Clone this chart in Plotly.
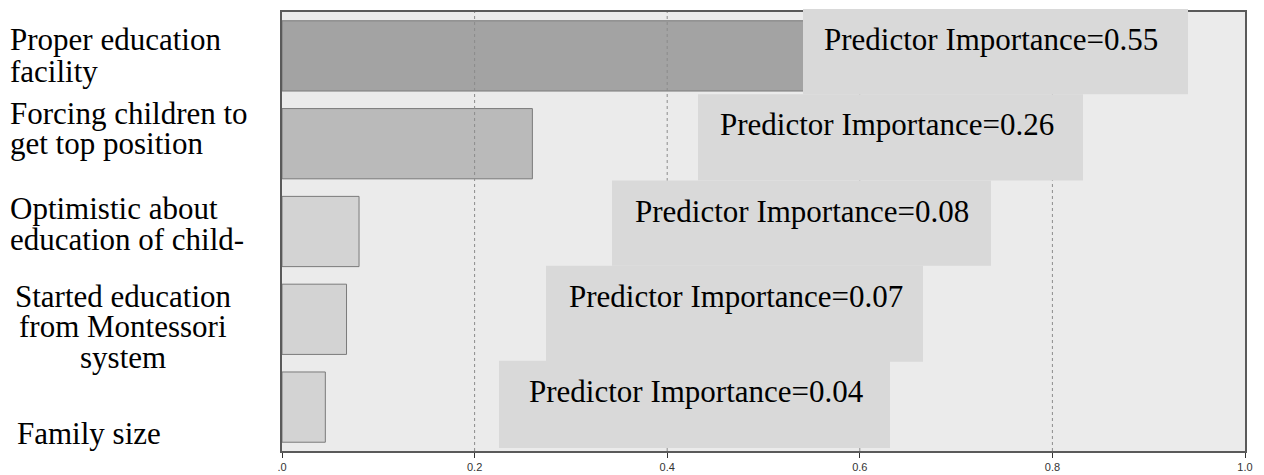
import plotly.graph_objects as go

# ---- data ----
categories = [
    "Proper education facility",
    "Forcing children to get top position",
    "Optimistic about education of child-",
    "Started education from Montessori system",
    "Family size",
]
importance = [0.55, 0.26, 0.08, 0.067, 0.045]
importance_labels = ["0.55", "0.26", "0.08", "0.07", "0.04"]
bar_colors = ["#a3a3a3", "#bababa", "#d3d3d3", "#d3d3d3", "#d3d3d3"]
x_tickvals = [0, 0.2, 0.4, 0.6, 0.8, 1.0]
x_ticktext = [".0", "0.2", "0.4", "0.6", "0.8", "1.0"]
grid_vals = [0.2, 0.4, 0.6, 0.8]

# category label lines (as printed on the left)
label_lines = [
    ["Proper education", "facility"],
    ["Forcing children to", "get top position"],
    ["Optimistic about", "education of child-"],
    ["Started education", "from Montessori", "system"],
    ["Family size"],
]

# ---- layout geometry (page pixels) ----
PAGE_W, PAGE_H = 1264, 475
OFF = 8  # default body margin of the html page
L, R, T, B = 282, 1245, 10, 453
FIG_W, FIG_H = PAGE_W - OFF, PAGE_H - OFF


def px(xp):
    return (xp - L) / (R - L)


def py(yp):
    return (B - yp) / (B - T)


serif = "Liberation Serif, Times New Roman, serif"

fig = go.Figure()
fig.add_trace(go.Bar(
    y=categories,
    x=importance,
    orientation="h",
    marker=dict(color=bar_colors, line=dict(color="#7a7a7a", width=1)),
    hoverinfo="skip",
))

shapes = []
# dashed gridlines drawn above bars
for g in grid_vals:
    shapes.append(dict(type="line", xref="x", yref="paper", x0=g, x1=g, y0=0, y1=1,
                       line=dict(color="#8c8c8c", width=1, dash="3px,3px"), layer="above"))

# tooltip-like boxes: (left, top, right, bottom, text-left) in page pixels
boxes = [
    (803, 7, 1188, 93, 822),
    (698, 93, 1083, 180, 718),
    (612, 180, 991, 266, 633),
    (546, 266, 923, 363, 567),
    (499, 362, 890, 450, 527),
]
annotations = []
for (x0, y0, x1, y1, tx), lab in zip(boxes, importance_labels):
    shapes.append(dict(type="rect", xref="paper", yref="paper",
                       x0=px(x0), x1=px(x1), y0=py(y1), y1=py(y0),
                       fillcolor="#d9d9d9", line=dict(width=0), layer="above"))
    annotations.append(dict(
        xref="paper", yref="paper", x=px(tx), y=py(y0 + 31),
        xanchor="left", yanchor="middle", showarrow=False,
        text=f"Predictor Importance={lab}",
        font=dict(family=serif, size=31, color="#000000"),
    ))

# left category labels, one annotation per line
line_specs = [
    # (x px, anchor, baseline px)
    (8, "left", 47),
    (8, "left", 79),
    (8, "left", 122),
    (8, "left", 152),
    (8, "left", 218),
    (8, "left", 249),
    (123, "center", 306),
    (123, "center", 337),
    (123, "center", 368),
    (15, "left", 445),
]
flat_lines = [t for grp in label_lines for t in grp]
fs = 31
for text, (xpx, anc, base) in zip(flat_lines, line_specs):
    annotations.append(dict(
        xref="paper", yref="paper", x=px(xpx), y=py(base - 0.3 * fs),
        xanchor=anc, yanchor="middle", showarrow=False, text=text,
        font=dict(family=serif, size=fs, color="#000000"),
    ))

# white strip mimicking the clipped "facility" line
shapes.append(dict(type="rect", xref="paper", yref="paper",
                   x0=px(0), x1=px(270), y0=py(92), y1=py(82),
                   fillcolor="#ffffff", line=dict(width=0), layer="above"))

fig.update_layout(
    width=FIG_W, height=FIG_H,
    margin=dict(l=L - OFF, r=PAGE_W - R, t=T - OFF, b=PAGE_H - B, pad=0),
    paper_bgcolor="#ffffff",
    plot_bgcolor="#ebebeb",
    showlegend=False,
    bargap=0.2,
    shapes=shapes,
    annotations=annotations,
    xaxis=dict(
        range=[0, 1], tickvals=x_tickvals, ticktext=x_ticktext,
        showgrid=False, zeroline=False,
        showline=True, linecolor="#5a5a5a", linewidth=1.5, mirror=True,
        ticks="outside", ticklen=5, tickcolor="#333333", tickwidth=1,
        tickfont=dict(family="Liberation Sans, Arial, sans-serif", size=11, color="#333333"),
        fixedrange=True,
    ),
    yaxis=dict(
        categoryorder="array", categoryarray=categories[::-1],
        showticklabels=False, showgrid=False, zeroline=False,
        showline=True, linecolor="#5a5a5a", linewidth=1.5, mirror=True,
        ticks="", fixedrange=True,
    ),
)

fig.write_html("out.html")
